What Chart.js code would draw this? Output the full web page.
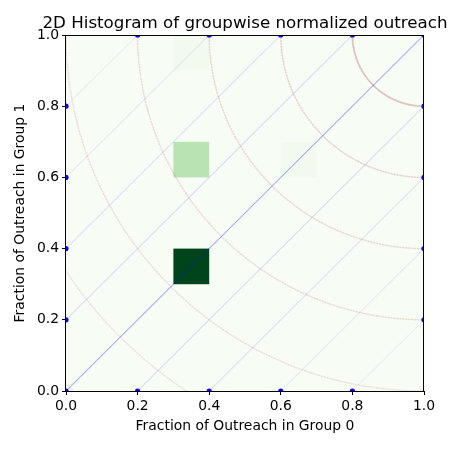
<!DOCTYPE html>
<html>
<head>
<meta charset="utf-8">
<script src="https://cdn.jsdelivr.net/npm/chart.js@4/dist/chart.umd.min.js"></script>
<style>
html, body { margin: 0; padding: 0; background: #fff; }
</style>
</head>
<body>
<canvas id="myChart" width="450" height="450"></canvas>
<script>
// histogram cells (lower-left corner of each non-empty bin) and their counts
var binWidth = 0.1;
var cellX = [0.3, 0.3, 0.6, 0.3];
var cellY = [0.3, 0.6, 0.6, 0.9];
var cellCount = [27, 8, 1, 1];

// guide lines: y = x + c, and arcs round (1,1)
var diagOffsets = [-0.8, -0.6, -0.4, -0.2, 0, 0.2, 0.4, 0.6, 0.8];
var arcRadii = [0.2, 0.4, 0.6, 0.8, 1.0, 1.2, 1.4];
var tickValues = [0, 0.2, 0.4, 0.6, 0.8, 1.0];

var titleText = "2D Histogram of groupwise normalized outreach";

// matplotlib "Greens"
var greensStops = [
  [247, 252, 245], [229, 245, 224], [199, 233, 192], [161, 217, 155],
  [116, 196, 118], [65, 171, 93], [35, 139, 69], [0, 109, 44], [0, 68, 27]
];
function greens(t) {
  t = Math.max(0, Math.min(1, t));
  var p = t * (greensStops.length - 1);
  var i = Math.min(Math.floor(p), greensStops.length - 2);
  var f = p - i;
  var a = greensStops[i], b = greensStops[i + 1];
  return "rgb(" + Math.round(a[0] + (b[0] - a[0]) * f) + "," +
    Math.round(a[1] + (b[1] - a[1]) * f) + "," +
    Math.round(a[2] + (b[2] - a[2]) * f) + ")";
}

function diagColor(c) {
  var k = Math.abs(c);
  if (k < 0.01) return "rgba(0,0,255,0.3)";
  if (k < 0.3) return "rgba(60,60,255,0.15)";
  if (k < 0.5) return "rgba(60,60,255,0.12)";
  if (k < 0.7) return "rgba(90,90,230,0.1)";
  return "rgba(140,140,160,0.1)";
}

var datasets = [];

arcRadii.forEach(function (r, idx) {
  var pts = [];
  var n = Math.round(r * 190);
  for (var j = 0; j <= n; j++) {
    var th = Math.PI + (Math.PI / 2) * j / n;
    pts.push({ x: 1 + r * Math.cos(th), y: 1 + r * Math.sin(th) });
  }
  var a = [0.24, 0.1, 0.09, 0.08, 0.07, 0.06, 0.05][idx];
  var col = "rgba(165,42,42," + a + ")";
  var dotCol = "rgba(165,42,42," + (idx === 0 ? 0.06 : a) + ")";
  datasets.push({
    data: pts,
    showLine: true,
    borderColor: col,
    borderWidth: idx === 0 ? 1.8 : 1.2,
    pointRadius: 1,
    pointBorderWidth: 0,
    pointBackgroundColor: dotCol,
    pointHoverRadius: 0
  });
});

// guide lines, then their end points as a separate set so they sit on top
var endPoints = [];
diagOffsets.forEach(function (c) {
  var p0 = { x: Math.max(0, -c), y: Math.max(0, c) };
  var p1 = { x: Math.min(1, 1 - c), y: Math.min(1, 1 + c) };
  endPoints.push(p0, p1);
  datasets.push({
    data: [p0, p1],
    showLine: true,
    borderColor: diagColor(c),
    borderWidth: 1.15,
    pointRadius: 0
  });
});
datasets.push({
  data: endPoints,
  showLine: false,
  pointRadius: 2.6,
  pointBorderWidth: 0,
  pointBackgroundColor: "#0000ff"
});

var histPlugin = {
  id: "hist2d",
  beforeDatasetsDraw: function (chart) {
    var ctx = chart.ctx, xs = chart.scales.x, ys = chart.scales.y;
    var maxCount = Math.max.apply(null, cellCount);
    ctx.save();
    ctx.fillStyle = greens(0);
    var l = xs.getPixelForValue(0), r = xs.getPixelForValue(1);
    var t = ys.getPixelForValue(1), b = ys.getPixelForValue(0);
    ctx.fillRect(l, t, r - l, b - t);
    for (var i = 0; i < cellCount.length; i++) {
      var x0 = xs.getPixelForValue(cellX[i]);
      var x1 = xs.getPixelForValue(cellX[i] + binWidth);
      var y0 = ys.getPixelForValue(cellY[i] + binWidth);
      var y1 = ys.getPixelForValue(cellY[i]);
      ctx.fillStyle = greens(cellCount[i] / maxCount);
      ctx.fillRect(x0, y0, x1 - x0, y1 - y0);
    }
    ctx.restore();
  },
  afterDatasetsDraw: function (chart) {
    var ctx = chart.ctx, a = chart.chartArea;
    ctx.save();
    ctx.strokeStyle = "#000";
    ctx.lineWidth = 1;
    ctx.strokeRect(Math.round(a.left) - 0.5, Math.round(a.top) + 0.5,
      Math.round(a.right - a.left), Math.round(a.bottom - a.top));
    // title centred over the plot area
    ctx.fillStyle = "#000";
    ctx.font = "16.7px 'DejaVu Sans', sans-serif";
    ctx.textAlign = "center";
    ctx.textBaseline = "alphabetic";
    ctx.fillText(titleText, (a.left + a.right) / 2, 28);
    ctx.restore();
  }
};

Chart.defaults.font.family = "'DejaVu Sans', sans-serif";
Chart.defaults.color = "#000";

function axis(label, size) {
  return {
    type: "linear",
    min: 0,
    max: 1,
    afterBuildTicks: function (s) {
      s.ticks = tickValues.map(function (v) { return { value: v }; });
    },
    afterFit: function (s) {
      if (s.isHorizontal()) s.height = size; else s.width = size;
    },
    ticks: {
      font: { size: 13.9 },
      padding: 3,
      maxRotation: 0,
      autoSkip: false,
      callback: function (v) { return Number(v).toFixed(1); }
    },
    grid: {
      drawOnChartArea: false,
      drawTicks: true,
      tickLength: 4,
      color: "#000"
    },
    border: { display: false },
    title: {
      display: true,
      text: label,
      font: { size: 13.9 },
      padding: label.indexOf("Group 0") >= 0 ? { top: 0, bottom: 15 } : { top: 12.5, bottom: 0 }
    }
  };
}

new Chart("myChart", {
  type: "scatter",
  data: { datasets: datasets },
  plugins: [histPlugin],
  options: {
    responsive: false,
    animation: false,
    events: [],
    layout: { padding: { left: 0, right: 26, top: 35, bottom: 0 }, autoPadding: false },
    scales: {
      x: axis("Fraction of Outreach in Group 0", 59),
      y: axis("Fraction of Outreach in Group 1", 66)
    },
    plugins: {
      legend: { display: false },
      tooltip: { enabled: false },
      title: { display: false }
    }
  }
});
</script>
</body>
</html>
